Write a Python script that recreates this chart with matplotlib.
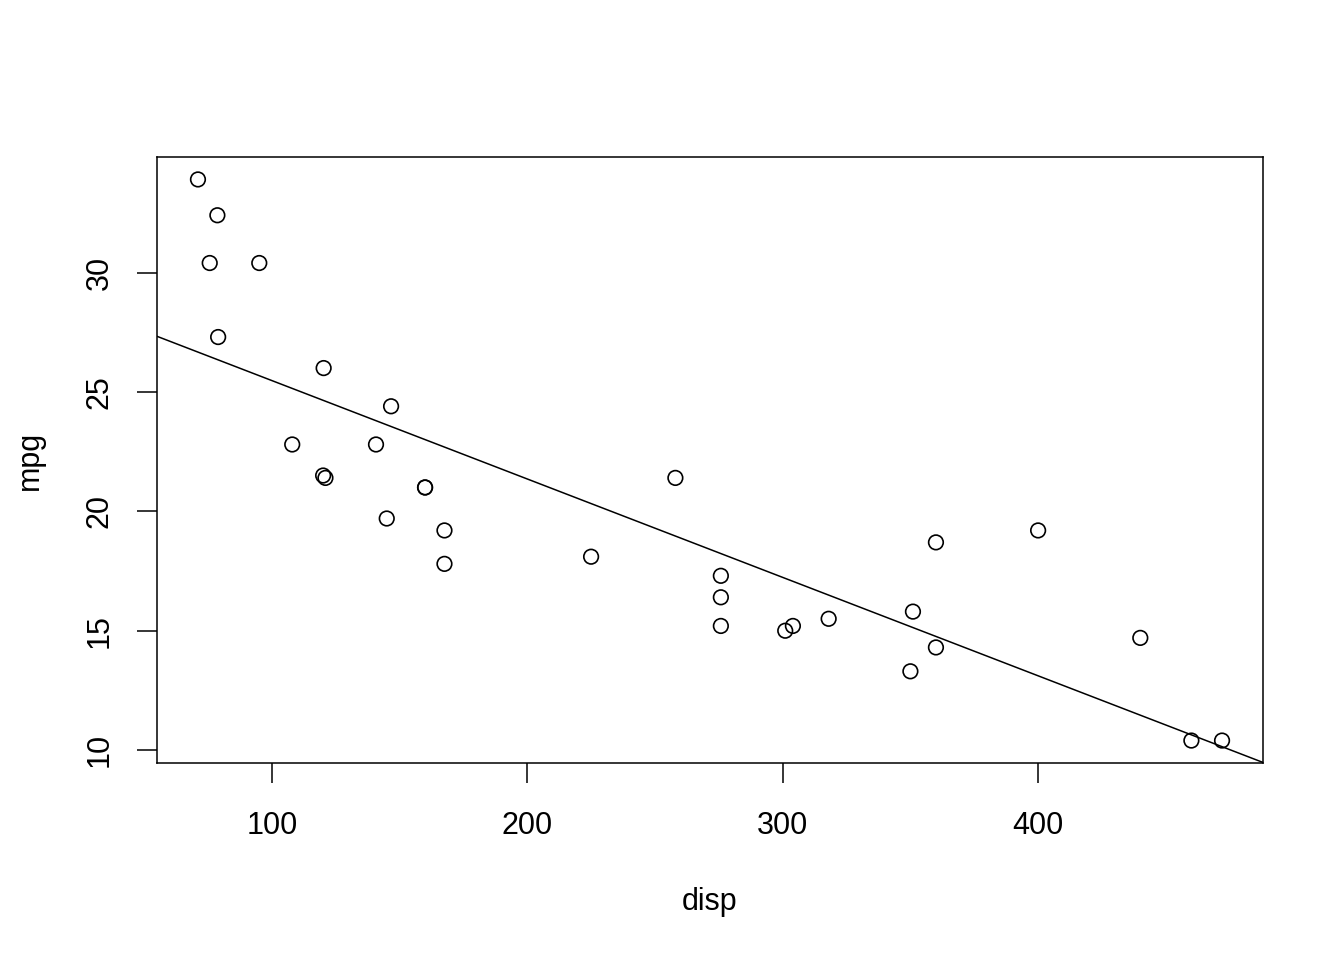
import matplotlib
matplotlib.use("Agg")
import matplotlib.pyplot as plt

# mtcars: displacement vs miles per gallon
disp = [160, 160, 108, 258, 360, 225, 360, 146.7, 140.8, 167.6, 167.6,
        275.8, 275.8, 275.8, 472, 460, 440, 78.7, 75.7, 71.1, 120.1,
        318, 304, 350, 400, 79, 120.3, 95.1, 351, 145, 301, 121]
mpg = [21.0, 21.0, 22.8, 21.4, 18.7, 18.1, 14.3, 24.4, 22.8, 19.2, 17.8,
       16.4, 17.3, 15.2, 10.4, 10.4, 14.7, 32.4, 30.4, 33.9, 21.5,
       15.5, 15.2, 13.3, 19.2, 27.3, 26.0, 30.4, 15.8, 19.7, 15.0, 21.4]

# fitted line (lm(mpg ~ disp))
line_intercept = 29.5999
line_slope = -0.04122

x_ticks = [100, 200, 300, 400]
y_ticks = [10, 15, 20, 25, 30]

plt.rcParams['font.family'] = ['Liberation Sans', 'DejaVu Sans']

W, H = 1344, 960
fig = plt.figure(figsize=(W / 100, H / 100), dpi=100)
L, R, T, B = 157, 1263, 157, 763
ax = fig.add_axes([L / W, 1 - B / H, (R - L) / W, (B - T) / H])

ax.scatter(disp, mpg, s=10.5**2, facecolors='none', edgecolors='black',
           linewidths=1.2, zorder=3)
ax.axline((0, line_intercept), slope=line_slope, color='black', lw=1.1)

xr = max(disp) - min(disp)
yr = max(mpg) - min(mpg)
ax.set_xlim(min(disp) - 0.04 * xr, max(disp) + 0.04 * xr)
ax.set_ylim(min(mpg) - 0.04 * yr, max(mpg) + 0.04 * yr)

ax.set_xticks(x_ticks)
ax.set_yticks(y_ticks)
ax.tick_params(axis='both', length=14.4, width=1.1, labelsize=22, color='black')
ax.tick_params(axis='x', pad=20)
ax.tick_params(axis='y', pad=16)
for lab in ax.get_yticklabels():
    lab.set_rotation(90)
    lab.set_va('center')
for s in ax.spines.values():
    s.set_linewidth(1.1)

fig.text((L + R) / 2 / W, 1 - 902 / H, 'disp', ha='center', va='center', fontsize=22)
fig.text(30 / W, 1 - (T + B) / 2 / H, 'mpg', ha='center', va='center',
         fontsize=22, rotation=90)

fig.savefig('out.png', dpi=100)
